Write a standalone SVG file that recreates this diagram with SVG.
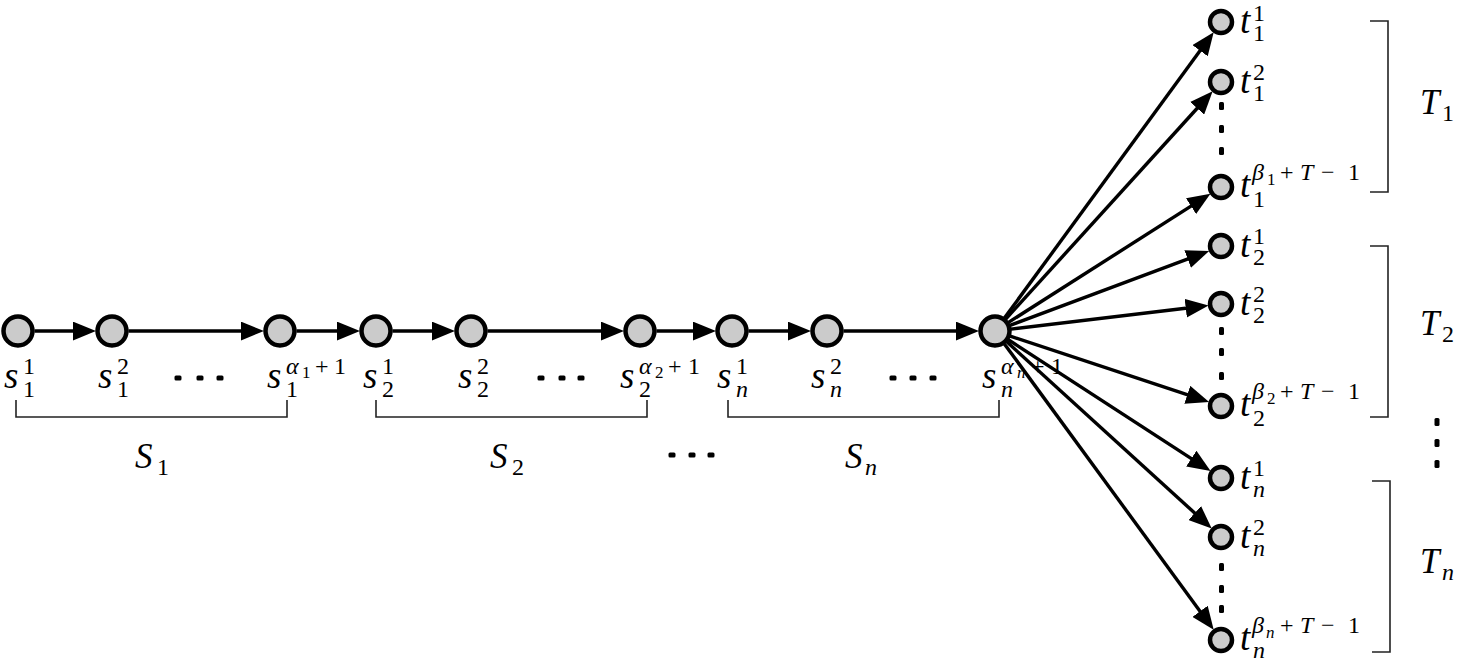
<svg xmlns="http://www.w3.org/2000/svg" width="1457" height="663" viewBox="0 0 1457 663" font-family="Liberation Serif, DejaVu Serif, serif">
<defs>
<marker id="ah" markerUnits="userSpaceOnUse" viewBox="0 0 22 18" markerWidth="23" markerHeight="19" refX="12" refY="9" orient="auto"><path d="M0,0 L22,9 L0,18 z" fill="#000"/></marker>
</defs>
<style>
.n{fill:#cbcbcb;stroke:#000;stroke-width:4.5}
.v{font-style:italic;font-size:37px;fill:#000}
.sc{font-size:24px;fill:#000}
.si{font-style:italic}
.ss{font-size:17px}
.L{font-style:italic;font-size:35px;fill:#000}
.e{stroke:#000;stroke-width:3.4;fill:none;marker-end:url(#ah)}
.br{stroke:#222;stroke-width:1.6;fill:none}
.d{fill:#000}
</style>
<rect width="1457" height="663" fill="#fff"/>

<g id="s1_1"><circle class="n" cx="18" cy="331" r="14.5"/><text class="v" x="4" y="388">s</text><text class="sc" x="23" y="374">1</text><text class="sc" x="23" y="397">1</text></g>
<g id="s1_2"><circle class="n" cx="112" cy="331" r="14.5"/><text class="v" x="98" y="388">s</text><text class="sc" x="117" y="374">2</text><text class="sc" x="117" y="397">1</text></g>
<g id="s1_a"><circle class="n" cx="280" cy="331" r="14.5"/><text class="v" x="267" y="388">s</text><text class="sc" y="374"><tspan class="si" x="286">α</tspan><tspan class="ss" x="302" dy="4">1</tspan><tspan x="315" dy="-4">+</tspan><tspan x="334">1</tspan></text><text class="sc" x="286" y="397">1</text></g>
<g id="s2_1"><circle class="n" cx="376" cy="331" r="14.5"/><text class="v" x="363" y="388">s</text><text class="sc" x="382" y="374">1</text><text class="sc" x="382" y="397">2</text></g>
<g id="s2_2"><circle class="n" cx="471" cy="331" r="14.5"/><text class="v" x="458" y="388">s</text><text class="sc" x="477" y="374">2</text><text class="sc" x="477" y="397">2</text></g>
<g id="s2_a"><circle class="n" cx="640" cy="331" r="14.5"/><text class="v" x="620" y="388">s</text><text class="sc" y="374"><tspan class="si" x="639">α</tspan><tspan class="ss" x="655" dy="4">2</tspan><tspan x="668" dy="-4">+</tspan><tspan x="688">1</tspan></text><text class="sc" x="639" y="397">2</text></g>
<g id="sn_1"><circle class="n" cx="732" cy="331" r="14.5"/><text class="v" x="717" y="388">s</text><text class="sc" x="736" y="374">1</text><text class="sc si" x="736" y="397">n</text></g>
<g id="sn_2"><circle class="n" cx="827" cy="331" r="14.5"/><text class="v" x="811" y="388">s</text><text class="sc" x="830" y="374">2</text><text class="sc si" x="830" y="397">n</text></g>
<g id="sn_a"><circle class="n" cx="995" cy="331" r="14.5"/><text class="v" x="982" y="388">s</text><text class="sc" y="374"><tspan class="si" x="1001">α</tspan><tspan class="ss si" x="1017" dy="4">n</tspan><tspan x="1031" dy="-4">+</tspan><tspan x="1051">1</tspan></text><text class="sc si" x="1001" y="397">n</text></g>

<g id="t1_1"><circle class="n" cx="1221" cy="22" r="11"/><text class="v" x="1240" y="33">t</text><text class="sc" x="1253" y="21">1</text><text class="sc" x="1253" y="41">1</text></g>
<g id="t1_2"><circle class="n" cx="1221" cy="82" r="11"/><text class="v" x="1240" y="93">t</text><text class="sc" x="1253" y="80">2</text><text class="sc" x="1253" y="101">1</text></g>
<g id="t1_b"><circle class="n" cx="1221" cy="187" r="11"/><text class="v" x="1240" y="197">t</text><text class="sc" y="180"><tspan class="si" x="1252">β</tspan><tspan class="ss" x="1267" dy="5">1</tspan><tspan x="1280" dy="-5">+</tspan><tspan class="si" x="1300">T</tspan><tspan x="1321">−</tspan><tspan x="1348">1</tspan></text><text class="sc" x="1253" y="207">1</text></g>
<g id="t2_1"><circle class="n" cx="1221" cy="246" r="11"/><text class="v" x="1240" y="257">t</text><text class="sc" x="1253" y="244">1</text><text class="sc" x="1253" y="265">2</text></g>
<g id="t2_2"><circle class="n" cx="1221" cy="304" r="11"/><text class="v" x="1240" y="315">t</text><text class="sc" x="1253" y="302">2</text><text class="sc" x="1253" y="323">2</text></g>
<g id="t2_b"><circle class="n" cx="1221" cy="406" r="11"/><text class="v" x="1240" y="416">t</text><text class="sc" y="399"><tspan class="si" x="1252">β</tspan><tspan class="ss" x="1267" dy="5">2</tspan><tspan x="1280" dy="-5">+</tspan><tspan class="si" x="1300">T</tspan><tspan x="1321">−</tspan><tspan x="1348">1</tspan></text><text class="sc" x="1253" y="426">2</text></g>
<g id="tn_1"><circle class="n" cx="1221" cy="478" r="11"/><text class="v" x="1240" y="489">t</text><text class="sc" x="1253" y="476">1</text><text class="sc si" x="1253" y="497">n</text></g>
<g id="tn_2"><circle class="n" cx="1221" cy="537" r="11"/><text class="v" x="1240" y="548">t</text><text class="sc" x="1253" y="535">2</text><text class="sc si" x="1253" y="556">n</text></g>
<g id="tn_b"><circle class="n" cx="1221" cy="640" r="11"/><text class="v" x="1240" y="650">t</text><text class="sc" y="633"><tspan class="si" x="1252">β</tspan><tspan class="ss si" x="1266" dy="5">n</tspan><tspan x="1280" dy="-5">+</tspan><tspan class="si" x="1300">T</tspan><tspan x="1321">−</tspan><tspan x="1348">1</tspan></text><text class="sc si" x="1253" y="658">n</text></g>

<g id="connectors">
<line class="e" x1="34.5" y1="331" x2="85.5" y2="331"/>
<line class="e" x1="128.5" y1="331" x2="253.5" y2="331"/>
<line class="e" x1="296.5" y1="331" x2="349.5" y2="331"/>
<line class="e" x1="392.5" y1="331" x2="444.5" y2="331"/>
<line class="e" x1="487.5" y1="331" x2="613.5" y2="331"/>
<line class="e" x1="656.5" y1="331" x2="705.5" y2="331"/>
<line class="e" x1="748.5" y1="331" x2="800.5" y2="331"/>
<line class="e" x1="843.5" y1="331" x2="968.5" y2="331"/>
<line class="e" x1="1004.4" y1="318.1" x2="1207.5" y2="40.6"/>
<line class="e" x1="1005.7" y1="319.1" x2="1205.6" y2="99.0"/>
<line class="e" x1="1008.5" y1="322.4" x2="1201.6" y2="199.4"/>
<line class="e" x1="1010.0" y1="325.4" x2="1199.4" y2="254.6"/>
<line class="e" x1="1010.9" y1="329.1" x2="1198.2" y2="306.7"/>
<line class="e" x1="1010.2" y1="336.1" x2="1199.2" y2="398.7"/>
<line class="e" x1="1008.4" y1="339.8" x2="1201.8" y2="465.4"/>
<line class="e" x1="1006.8" y1="341.8" x2="1204.0" y2="521.5"/>
<line class="e" x1="1004.4" y1="343.9" x2="1207.5" y2="621.4"/>
</g>

<g id="groupS1"><path class="br" d="M16,400 V417 H287 V400"/><text class="L" x="135" y="468">S</text><text class="sc" x="157" y="475">1</text></g>
<g id="groupS2"><path class="br" d="M376,400 V417 H647 V400"/><text class="L" x="490" y="468">S</text><text class="sc" x="512" y="475">2</text></g>
<g id="groupSn"><path class="br" d="M728,400 V417 H999 V400"/><text class="L" x="845" y="468">S</text><text class="sc si" x="865" y="475">n</text></g>
<g id="groupT1"><path class="br" d="M1370,21 H1388 V192 H1370"/><text class="L" x="1420" y="114">T</text><text class="sc" x="1442" y="121">1</text></g>
<g id="groupT2"><path class="br" d="M1370,246 H1388 V417 H1370"/><text class="L" x="1420" y="335">T</text><text class="sc" x="1442" y="342">2</text></g>
<g id="groupTn"><path class="br" d="M1372,481 H1390 V652 H1372"/><text class="L" x="1420" y="573">T</text><text class="sc si" x="1442" y="580">n</text></g>

<g id="dots">
<rect class="d" x="174.5" y="375.5" width="7" height="5" rx="1.5"/><rect class="d" x="196.5" y="375.5" width="7" height="5" rx="1.5"/><rect class="d" x="216.5" y="375.5" width="7" height="5" rx="1.5"/>
<rect class="d" x="537.5" y="375.5" width="7" height="5" rx="1.5"/><rect class="d" x="558.5" y="375.5" width="7" height="5" rx="1.5"/><rect class="d" x="577.5" y="375.5" width="7" height="5" rx="1.5"/>
<rect class="d" x="889.5" y="375.5" width="7" height="5" rx="1.5"/><rect class="d" x="909.5" y="375.5" width="7" height="5" rx="1.5"/><rect class="d" x="929.5" y="375.5" width="7" height="5" rx="1.5"/>
<rect class="d" x="668.5" y="452.5" width="7" height="5" rx="1.5"/><rect class="d" x="688.5" y="452.5" width="7" height="5" rx="1.5"/><rect class="d" x="707.5" y="452.5" width="7" height="5" rx="1.5"/>
<rect class="d" x="1219" y="102" width="5" height="8" rx="1.5"/><rect class="d" x="1219" y="125" width="5" height="8" rx="1.5"/><rect class="d" x="1219" y="147" width="5" height="8" rx="1.5"/>
<rect class="d" x="1219" y="327" width="5" height="8" rx="1.5"/><rect class="d" x="1219" y="348" width="5" height="8" rx="1.5"/><rect class="d" x="1219" y="372" width="5" height="8" rx="1.5"/>
<rect class="d" x="1219" y="563" width="5" height="8" rx="1.5"/><rect class="d" x="1219" y="585" width="5" height="8" rx="1.5"/><rect class="d" x="1219" y="605" width="5" height="8" rx="1.5"/>
<rect class="d" x="1434.5" y="418" width="5" height="8" rx="1.5"/><rect class="d" x="1434.5" y="439" width="5" height="8" rx="1.5"/><rect class="d" x="1434.5" y="460" width="5" height="8" rx="1.5"/>
</g>
</svg>
